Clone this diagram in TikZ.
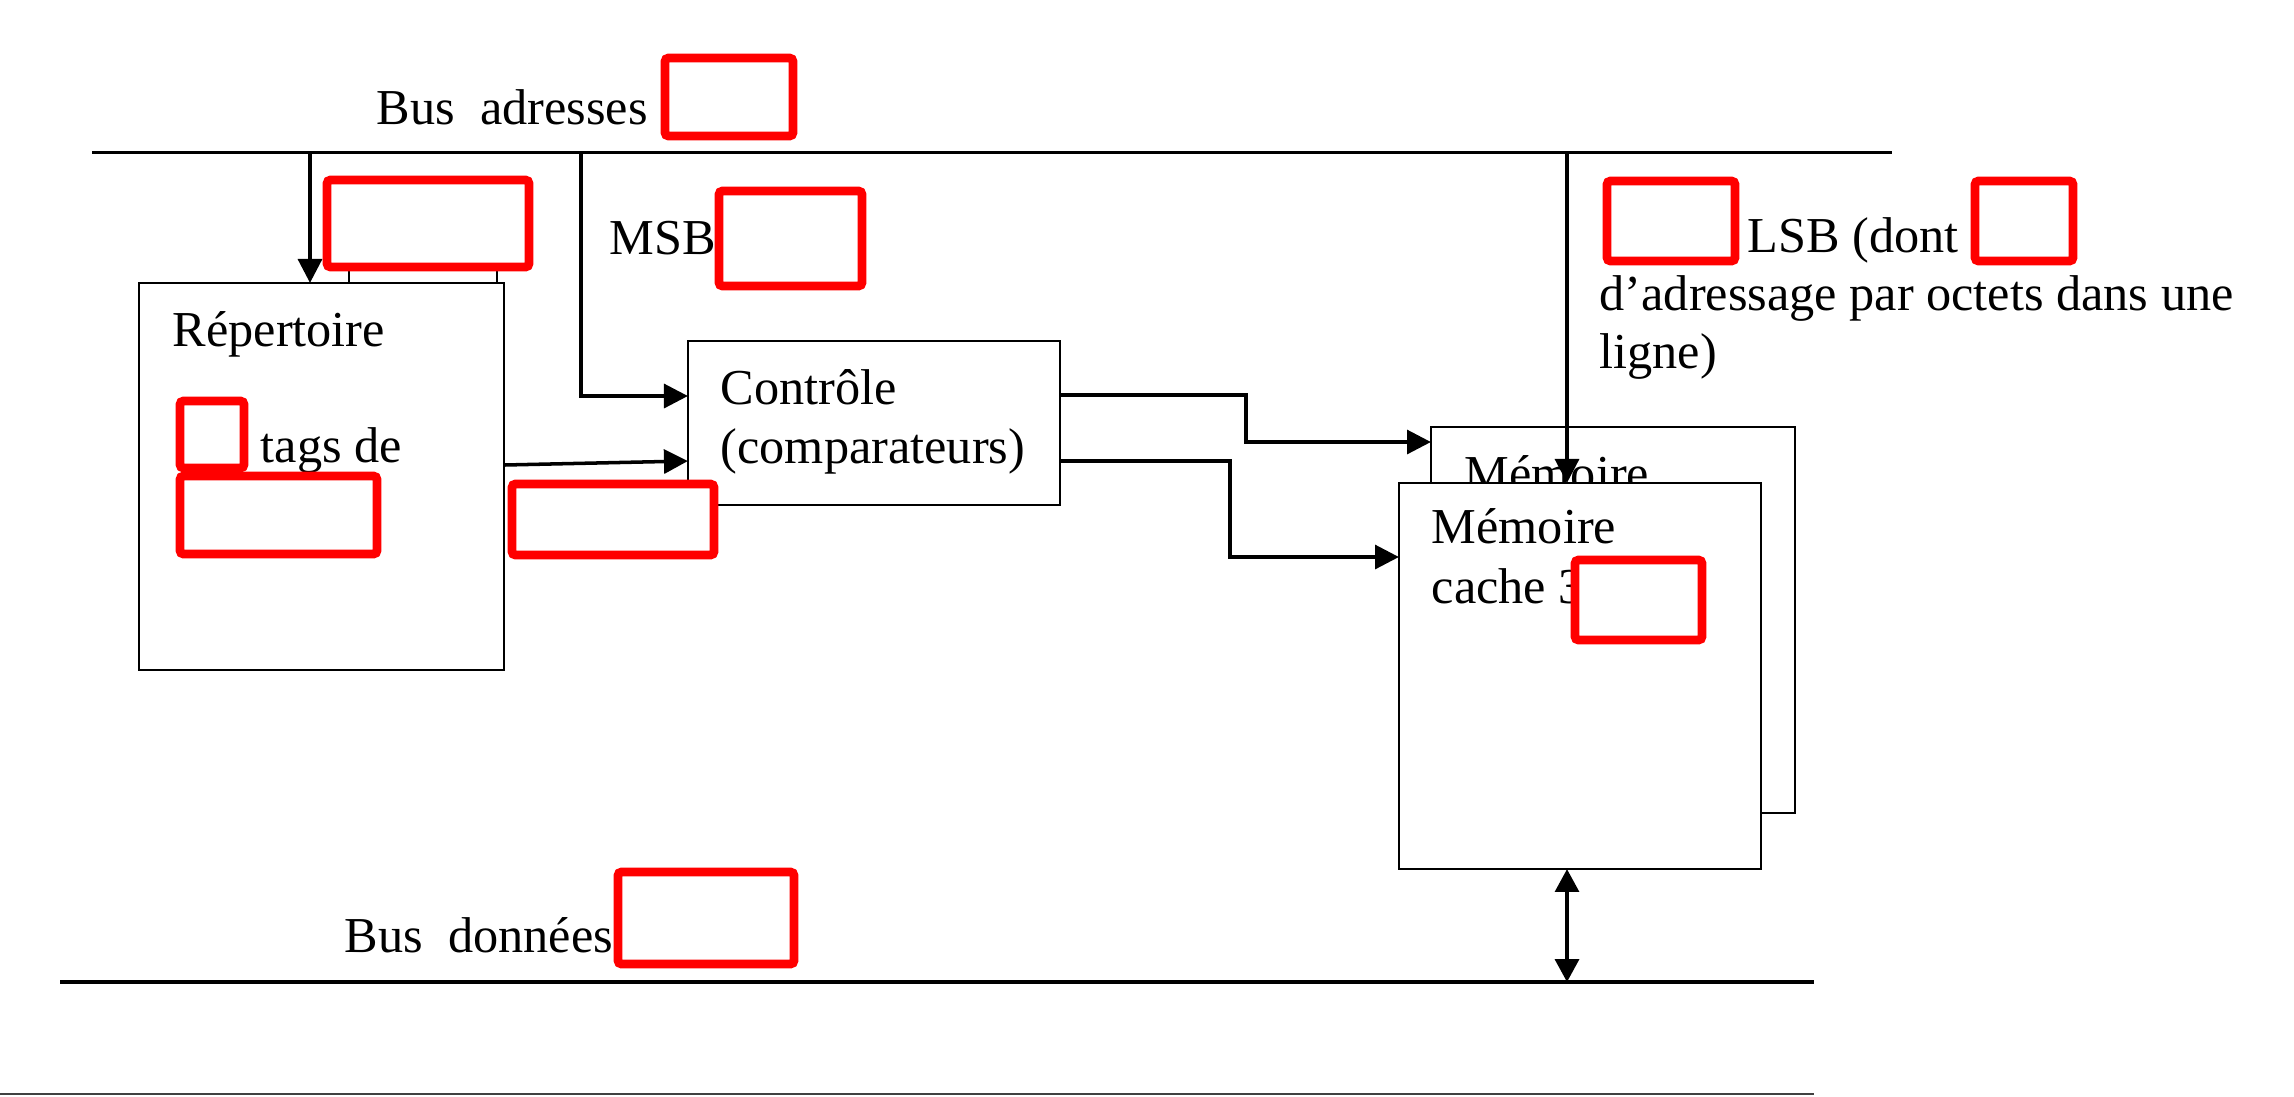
\documentclass[tikz,border=0pt]{standalone}
\usepackage{fontspec}
\setmainfont{Liberation Serif}
\usepackage{tikz}
\usetikzlibrary{arrows.meta}
\tikzstyle{blk}=[draw=black,fill=white,inner sep=0mm,outer sep=0mm,line width=0.75pt]
\tikzstyle{lbl}=[anchor=base west,inner sep=0mm]
\tikzstyle{bus}=[line width=0.85pt]
\tikzstyle{arrow}=[-{Triangle[length=6.8pt,width=6.8pt]},line width=1pt]
\tikzstyle{dbl}=[{Triangle[length=6.5pt,width=6.8pt]}-{Triangle[length=6.5pt,width=6.8pt]},line width=0.95pt]
\tikzstyle{redact}=[draw=red,fill=white,line width=2.5pt,rounded corners=1pt]
\tikzset{every picture/.style={
    font=\fontsize{14.3}{17}\selectfont
  }
}

\begin{document}
\begin{tikzpicture}[x=0.01cm,y=-0.01cm]
      \useasboundingbox[fill=white] (0,0) rectangle (2294,1096);
      % buses
      \coordinate (ba-w) at (92,152);
      \coordinate (ba-e) at (1892,152);
      \coordinate (bd-w) at (60,982);
      \coordinate (bd-e) at (1814,982);
      \draw[bus] (ba-w)--(ba-e);
      \draw[bus,line width=0.95pt] (bd-w)--(bd-e);
      \draw[line width=0.6pt,black!75] (0,1094)--(1814,1094);
      \node[lbl] (badr) at (376,124) {Bus\ \ adresses};
      \node[lbl] (bdon) at (344,952) {Bus\ \ données};
      % blocks
      \node[blk,minimum width=1.48cm,minimum height=0.48cm] at (423,259) (tagw) {};
      \node[blk,minimum width=3.65cm,minimum height=3.87cm] at (321.5,476.5) (rep) {};
      \node[blk,minimum width=3.72cm,minimum height=1.64cm] at (874,423) (ctl) {};
      \node[blk,minimum width=3.64cm,minimum height=3.86cm] at (1613,620) (back) {};
      \node[lbl] at (1464,490) (backt) {Mémoire};
      \node[blk,minimum width=3.62cm,minimum height=3.86cm] at (1580,676) (mem) {};
      \node[lbl] at (172,346) (rept) {Répertoire};
      \node[lbl] at (260,462) (tags) {tags de};
      \node[lbl] at (720,404) (ctl1) {Contrôle};
      \node[lbl] at (720,463) (ctl2) {(comparateurs)};
      \node[lbl] at (1431,543) (mem1) {Mémoire};
      \node[lbl] at (1431,603) (mem2) {cache 3};
      \node[lbl] at (609,254) (msbt) {MSB};
      \node[lbl] at (1747,252) (lsb1) {LSB (dont};
      \node[lbl] at (1599,310) (lsb2) {d’adressage par octets dans une};
      \node[lbl] at (1599,368) (lsb3) {ligne)};
      % connectors
      \coordinate (ad1) at (310,152);
      \coordinate (msb) at (581,152);
      \coordinate (msbk) at (581,396);
      \coordinate (lsb) at (1567,152);
      \coordinate (tagr) at (0,465);
      \coordinate (tagc) at (0,461);
      \coordinate (c1a) at (1246,395);
      \coordinate (c1b) at (1246,442);
      \coordinate (c2a) at (1230,461);
      \coordinate (c2b) at (1230,557);
      \coordinate (dat) at (1567,982);
      \draw[arrow] (ad1)--(ad1 |- rep.north);
      \draw[arrow] (msb)--(msbk)--(msbk -| ctl.west);
      \draw[arrow] (rep.east |- tagr)--(ctl.west |- tagc);
      \draw[arrow] (ctl.east |- c1a)--(c1a)--(c1b)--(c1b -| back.west);
      \draw[arrow] (ctl.east |- c2a)--(c2a)--(c2b)--(c2b -| mem.west);
      \draw[arrow] (lsb)--(lsb |- mem.north);
      \draw[dbl] (dat |- mem.south)--(dat);
      % masked parts
      \draw[redact] (665,58) rectangle (793,136);
      \draw[redact] (327,180) rectangle (529,267);
      \draw[redact] (719,191) rectangle (862,286);
      \draw[redact] (180,401) rectangle (244,468);
      \draw[redact] (180,476) rectangle (377,554);
      \draw[redact] (512,484) rectangle (714,555);
      \draw[redact] (1575,560) rectangle (1702,640);
      \draw[redact] (1607,181) rectangle (1735,261);
      \draw[redact] (1975,181) rectangle (2073,261);
      \draw[redact] (618,872) rectangle (794,964);
    \end{tikzpicture}
\end{document}
